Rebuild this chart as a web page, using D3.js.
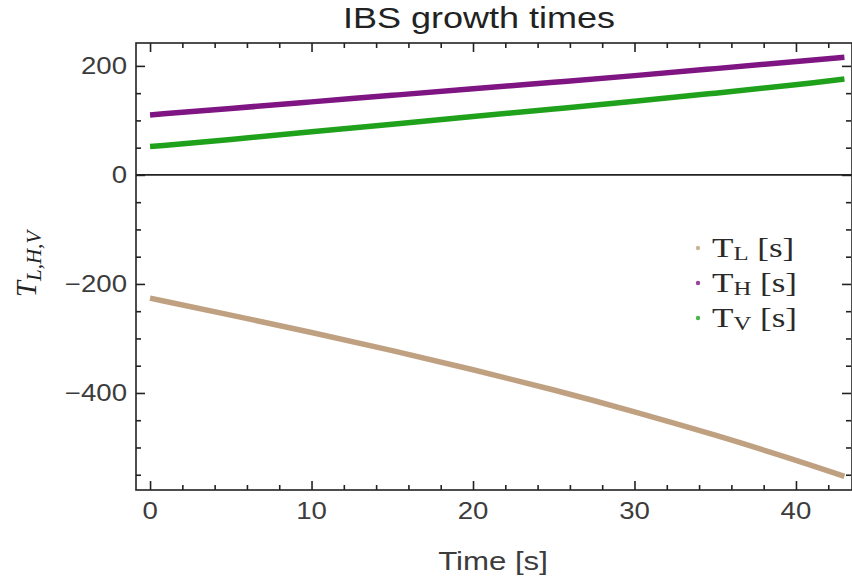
<!DOCTYPE html>
<html>
<head>
<meta charset="utf-8">
<script src="https://cdn.jsdelivr.net/npm/d3@7"></script>
<style>
  body { margin: 0; background: #fff; }
  svg { display: block; }
</style>
</head>
<body>
<div id="chart-area"></div>
<script>
// data
const times = [0, 5, 10, 15, 20, 25, 30, 35, 40, 43]
const tauL = [-226, -257, -289, -322, -357, -394, -434, -477, -523, -553]
const tauH = [110, 122, 134, 146, 158, 170, 182, 195, 208, 216]
const tauV = [52, 65, 79, 93, 107, 121, 135, 150, 165, 176]
const xTicks = [0, 10, 20, 30, 40]
const yTicks = [200, 0, -200, -400]
const legendLabels = ["L", "H", "V"]

const WIDTH = 852, HEIGHT = 576
const FRAME = { LEFT: 136, RIGHT: 852, TOP: 43, BOTTOM: 490 }
const STRETCH = 1.2 // text in the picture is drawn wider than normal

const svg = d3.select("#chart-area").append("svg")
    .attr("width", WIDTH)
    .attr("height", HEIGHT)

// scales
const x = d3.scaleLinear().domain([-0.87, 43.47]).range([FRAME.LEFT, FRAME.RIGHT])
const y = d3.scaleLinear().domain([-578, 242]).range([FRAME.BOTTOM, FRAME.TOP])

const series = [
    { key: "L", values: tauL, color: "#bfa181" },
    { key: "H", values: tauH, color: "#7e1583" },
    { key: "V", values: tauV, color: "#20a11c" }
]

// lines
const line = d3.line()
    .x((d, i) => x(times[i]))
    .y(d => y(d))
    .curve(d3.curveBasis)

svg.append("g").selectAll("path")
    .data(series)
    .join("path")
    .attr("fill", "none")
    .attr("stroke", d => d.color)
    .attr("stroke-width", 5.5)
    .attr("d", d => line(d.values))

// zero axis line
svg.append("line")
    .attr("x1", FRAME.LEFT).attr("x2", FRAME.RIGHT)
    .attr("y1", y(0)).attr("y2", y(0))
    .attr("stroke", "#222")
    .attr("stroke-width", 1.6)

// frame
svg.append("rect")
    .attr("x", FRAME.LEFT).attr("y", FRAME.TOP)
    .attr("width", FRAME.RIGHT - FRAME.LEFT)
    .attr("height", FRAME.BOTTOM - FRAME.TOP)
    .attr("fill", "none")
    .attr("stroke", "#222")
    .attr("stroke-width", 1.6)

// frame ticks, pointing inward (major + minor)
const xMajor = d3.range(0, 44, 10), xMinor = d3.range(0, 44, 2).filter(v => v % 10 !== 0)
const yMajor = d3.range(-400, 201, 200), yMinor = d3.range(-550, 242, 50).filter(v => v % 200 !== 0)

const sides = [
    [() => d3.axisBottom(x), `translate(0,${FRAME.BOTTOM})`, true],
    [() => d3.axisTop(x), `translate(0,${FRAME.TOP})`, true],
    [() => d3.axisLeft(y), `translate(${FRAME.LEFT},0)`, false],
    [() => d3.axisRight(y), `translate(${FRAME.RIGHT - 1},0)`, false]
]
sides.forEach(([make, tr, isX]) => {
    const g1 = svg.append("g").attr("transform", tr)
        .call(make().tickValues(isX ? xMajor : yMajor).tickSize(-9).tickFormat(""))
    const g2 = svg.append("g").attr("transform", tr)
        .call(make().tickValues(isX ? xMinor : yMinor).tickSize(-5).tickFormat(""))
    ;[g1, g2].forEach(g => {
        g.select(".domain").remove()
        g.selectAll("line").attr("stroke", "#222").attr("stroke-width", 1.6)
    })
})

// tick labels
const fmt = d => (d < 0 ? "\u2212" : "") + Math.abs(d)
svg.append("g").selectAll("text")
    .data(xTicks)
    .join("text")
    .attr("transform", d => `translate(${x(d)},519) scale(${STRETCH},1)`)
    .attr("text-anchor", "middle")
    .attr("font-family", "Liberation Sans, Arial, sans-serif")
    .attr("font-size", 23)
    .attr("fill", "#3c3c3c")
    .text(fmt)

svg.append("g").selectAll("text")
    .data(yTicks)
    .join("text")
    .attr("transform", d => `translate(127,${y(d) + 8}) scale(${STRETCH},1)`)
    .attr("text-anchor", "end")
    .attr("font-family", "Liberation Sans, Arial, sans-serif")
    .attr("font-size", 23)
    .attr("fill", "#3c3c3c")
    .text(fmt)

// title and axis labels
svg.append("text")
    .attr("transform", `translate(479,28) scale(${STRETCH},1)`)
    .attr("text-anchor", "middle")
    .attr("font-family", "Liberation Sans, Arial, sans-serif")
    .attr("font-size", 30)
    .attr("fill", "#222")
    .text("IBS growth times")

svg.append("text")
    .attr("transform", `translate(493,570) scale(${STRETCH},1)`)
    .attr("text-anchor", "middle")
    .attr("font-family", "Liberation Sans, Arial, sans-serif")
    .attr("font-size", 26)
    .attr("fill", "#3c3c3c")
    .text("Time [s]")

const yLab = svg.append("text")
    .attr("transform", "translate(36,264) rotate(-90)")
    .attr("text-anchor", "middle")
    .attr("font-family", "Liberation Serif, Times New Roman, serif")
    .attr("font-style", "italic")
    .attr("font-size", 29)
    .attr("fill", "#222")
yLab.append("tspan").text("T")
yLab.append("tspan").attr("font-size", 21).attr("dy", 5).text("L,H,V")

// legend
const legend = svg.append("g").selectAll("g")
    .data(series)
    .join("g")
    .attr("transform", (d, i) => `translate(698,${248 + i * 35})`)

legend.append("circle")
    .attr("r", 2.2)
    .attr("fill", d => d.color)
    .attr("opacity", 0.8)

const legText = legend.append("text")
    .attr("transform", "translate(14,9) scale(1.3,1)")
    .attr("font-family", "Liberation Serif, Times New Roman, serif")
    .attr("font-size", 27)
    .attr("fill", "#2a2a2a")
legText.append("tspan").text("T")
legText.append("tspan").attr("font-size", 19).attr("dy", 3).text((d, i) => legendLabels[i])
legText.append("tspan").attr("dy", -3).text(" [s]")
</script>
</body>
</html>
